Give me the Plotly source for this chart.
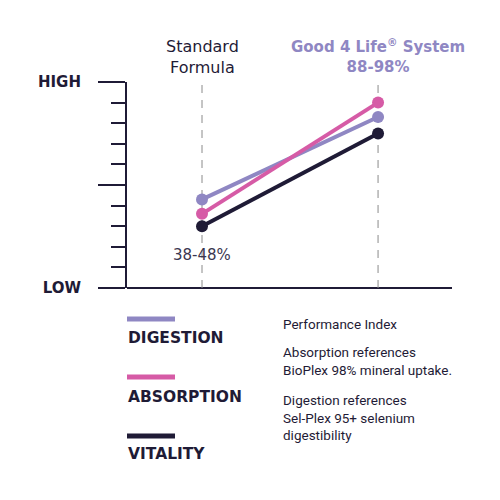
import plotly.graph_objects as go

# ---- data ----
categories = ["Standard Formula", "Good 4 Life System"]
x_pos = [0, 1]
digestion = [43, 83]
absorption = [36, 90]
vitality = [30, 75]
series_names = ["DIGESTION", "ABSORPTION", "VITALITY"]
series_colors = ["#8f87c3", "#d65ba6", "#1f1b36"]
y_tickvals = [0, 50, 100]
y_ticktext = ["LOW", "", "HIGH"]
standard_range = "38-48%"
note_lines = ["Performance Index",
              "Absorption references<br>BioPlex 98% mineral uptake.",
              "Digestion references<br>Sel-Plex 95+ selenium<br>digestibility"]

DARK = "#1f1b36"
GRAY = "#8a8a8a"
BOLD = "DejaVu Sans"
NARROW = "Roboto, sans-serif"

fig = go.Figure()

# vertical dashed guides
for xv in x_pos:
    fig.add_trace(go.Scatter(x=[xv, xv], y=[0, 100], mode="lines",
                             line=dict(color=GRAY, width=1, dash="8px,7px"),
                             hoverinfo="skip", showlegend=False))

for name, vals, col in zip(series_names, [digestion, absorption, vitality], series_colors):
    fig.add_trace(go.Scatter(x=x_pos, y=vals, mode="lines+markers", name=name,
                             line=dict(color=col, width=4),
                             marker=dict(color=col, size=12),
                             cliponaxis=False, showlegend=False))

L, R, T, B = 127, 48, 82, 212
W = 500 - L - R
H = 500 - T - B

def px(x):
    return (x - L) / W

def py(y):
    return (500 - B - y) / H

fig.update_layout(
    width=500, height=500,
    margin=dict(l=L, r=R, t=T, b=B, pad=0, autoexpand=False),
    paper_bgcolor="white", plot_bgcolor="white",
    xaxis=dict(range=[-0.426, 1.420], showgrid=False, zeroline=False, automargin=False,
               showticklabels=False, ticks="", showline=False, fixedrange=True),
    yaxis=dict(range=[0, 100], showgrid=False, zeroline=True, zerolinecolor=DARK,
               zerolinewidth=2, showline=True, linecolor=DARK, linewidth=2, automargin=False,
               tickvals=y_tickvals, ticktext=y_ticktext, ticks="outside",
               ticklen=27, tickwidth=2, tickcolor=DARK,
               minor=dict(dtick=10, ticks="outside", ticklen=14, tickwidth=2, tickcolor=DARK),
               ticklabelstandoff=14,
               tickfont=dict(family=BOLD, size=15, color=DARK, weight="bold"),
               fixedrange=True),
    showlegend=False,
)

# category headers
fig.add_annotation(x=x_pos[0], y=1, xref="x", yref="paper", yshift=3, yanchor="bottom",
                   text="Standard<br>Formula", showarrow=False,
                   font=dict(family=BOLD, size=16, color=DARK))
fig.add_annotation(x=x_pos[1], y=1, xref="x", yref="paper", yshift=4, yanchor="bottom",
                   text="<b>Good 4 Life<sup>®</sup> System<br>88-98%</b>", showarrow=False,
                   font=dict(family=BOLD, size=15, color=series_colors[0]))
fig.add_annotation(x=x_pos[0], y=16, xref="x", yref="y", text=standard_range,
                   showarrow=False, font=dict(family=BOLD, size=15, color="#3a3650"))

# custom legend
leg_line_y = [319, 377, 436]
leg_text_y = [338, 397, 454]
for name, col, ly, ty in zip(series_names, series_colors, leg_line_y, leg_text_y):
    fig.add_shape(type="line", xref="paper", yref="paper", x0=px(127), x1=px(175),
                  y0=py(ly), y1=py(ly), line=dict(color=col, width=5))
    fig.add_annotation(xref="paper", yref="paper", x=px(126), y=py(ty), xanchor="left",
                       yanchor="middle", text=f"<b>{name}</b>", showarrow=False,
                       font=dict(family=BOLD, size=15.5, color=DARK))

note_y = [324, 361, 417]
for txt, ny in zip(note_lines, note_y):
    fig.add_annotation(xref="paper", yref="paper", x=px(281), y=py(ny), xanchor="left",
                       yanchor="middle", align="left", text=txt, showarrow=False,
                       font=dict(family=NARROW, size=13.5, color=DARK))

fig.write_html("out.html", config={"displayModeBar": False},
               post_script="document.body.style.margin='0';")
